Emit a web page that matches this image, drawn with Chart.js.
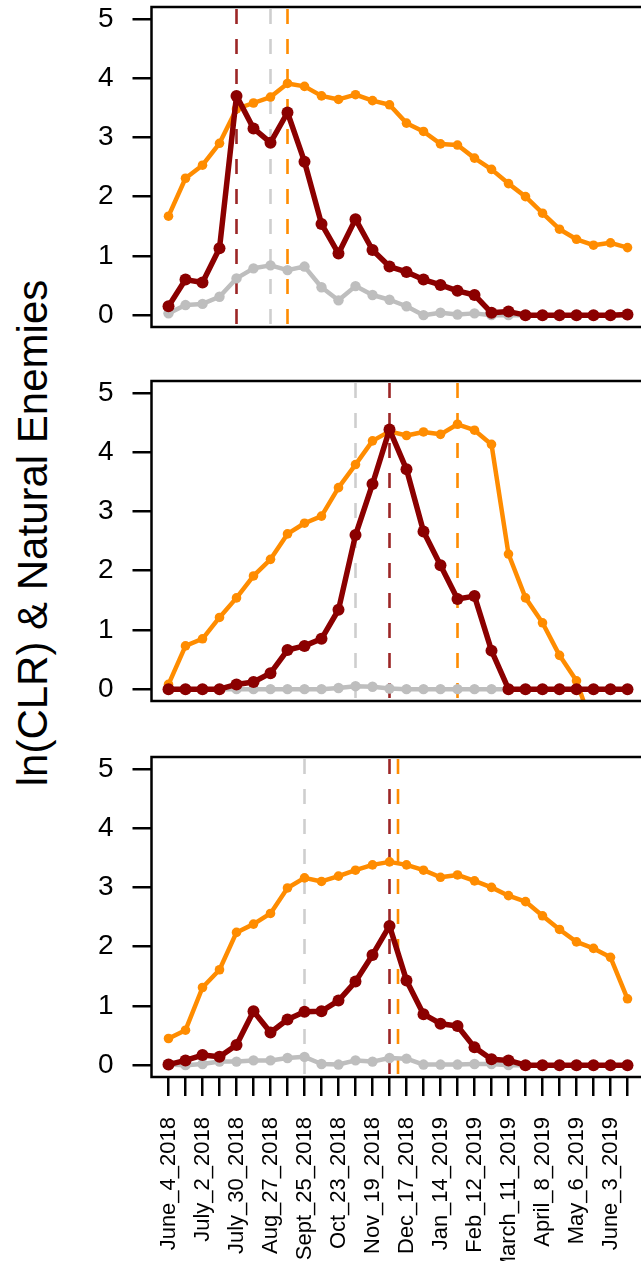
<!DOCTYPE html>
<html>
<head>
<meta charset="utf-8">
<script src="https://cdn.jsdelivr.net/npm/chart.js@4.4.0/dist/chart.umd.min.js"></script>
<style>
  html, body { margin: 0; padding: 0; background: #fff; overflow: hidden; width: 641px; height: 1261px; }
  .panel { position: absolute; left: 0; }
  #ytitle {
    position: absolute; width: 700px; height: 42px; line-height: 42px;
    left: -319.6px; top: 512px; text-align: center; white-space: nowrap;
    font: 42px "Liberation Sans", Arial, sans-serif; color: #000;
    transform: rotate(-90deg); transform-origin: 50% 50%;
  }
</style>
</head>
<body>
<div id="ytitle">ln(CLR) &amp; Natural Enemies</div>
<canvas class="panel" id="c1"></canvas>
<canvas class="panel" id="c2"></canvas>
<canvas class="panel" id="c3"></canvas>
<script>
// Sampling dates (every other one labelled on the axis)
const categories = [
  'June_4_2018', '', 'July_2_2018', '', 'July_30_2018', '', 'Aug_27_2018', '',
  'Sept_25_2018', '', 'Oct_23_2018', '', 'Nov_19_2018', '', 'Dec_17_2018', '',
  'Jan_14_2019', '', 'Feb_12_2019', '', 'March_11_2019', '', 'April_8_2019', '',
  'May_6_2019', '', 'June_3_2019', ''
];
const yTicks = [0, 1, 2, 3, 4, 5];

// Panel 1
const clrA     = [1.67, 2.31, 2.53, 2.90, 3.48, 3.58, 3.68, 3.91, 3.86, 3.70, 3.64, 3.72, 3.62, 3.55, 3.24, 3.10, 2.89, 2.87, 2.65, 2.46, 2.22, 2.00, 1.72, 1.45, 1.28, 1.18, 1.22, 1.14];
const enemy1A  = [0.15, 0.60, 0.55, 1.13, 3.70, 3.15, 2.91, 3.42, 2.59, 1.54, 1.04, 1.62, 1.10, 0.82, 0.73, 0.60, 0.51, 0.41, 0.34, 0.04, 0.06, 0, 0, 0, 0, 0, 0, 0.01];
const enemy2A  = [0.03, 0.17, 0.19, 0.31, 0.62, 0.79, 0.84, 0.76, 0.82, 0.47, 0.25, 0.49, 0.34, 0.26, 0.15, 0, 0.04, 0.01, 0.03, 0, 0, 0, 0, 0, 0, 0, 0, 0];
const peaksA   = [7, 4, 6];      // CLR, enemy 1, enemy 2

// Panel 2
const clrB     = [0.08, 0.73, 0.85, 1.21, 1.54, 1.91, 2.19, 2.62, 2.80, 2.92, 3.40, 3.79, 4.19, 4.35, 4.28, 4.34, 4.30, 4.47, 4.37, 4.13, 2.28, 1.54, 1.12, 0.57, 0.14, -0.69, null, null];
const enemy1B  = [0, 0, 0, 0, 0.08, 0.12, 0.27, 0.66, 0.73, 0.85, 1.34, 2.60, 3.46, 4.38, 3.71, 2.66, 2.09, 1.52, 1.57, 0.65, 0, 0, 0, 0, 0, 0, 0, 0];
const enemy2B  = [0, 0, 0, 0, 0, 0, 0, 0, 0, 0, 0.02, 0.05, 0.04, 0.01, 0, 0, 0, 0, 0, 0, 0, 0, 0, 0, 0, 0, 0, 0];
const peaksB   = [17, 13, 11];

// Panel 3
const clrC     = [0.45, 0.59, 1.31, 1.61, 2.24, 2.38, 2.56, 2.99, 3.16, 3.10, 3.19, 3.29, 3.38, 3.43, 3.38, 3.29, 3.17, 3.21, 3.11, 3.00, 2.86, 2.76, 2.52, 2.29, 2.08, 1.97, 1.82, 1.12];
const enemy1C  = [0.01, 0.08, 0.17, 0.14, 0.34, 0.91, 0.55, 0.77, 0.90, 0.91, 1.09, 1.41, 1.86, 2.35, 1.43, 0.86, 0.70, 0.66, 0.30, 0.10, 0.08, 0, 0, 0, 0, 0, 0, 0];
const enemy2C  = [0.01, 0, 0.02, 0.06, 0.06, 0.08, 0.08, 0.12, 0.14, 0.02, 0.01, 0.08, 0.06, 0.12, 0.11, 0.01, 0.01, 0.01, 0.02, 0.02, 0, 0, 0, 0, 0, 0, 0, 0];
const peaksC   = [13.5, 13, 8];

const COL_CLR = '#FF8C00';
const COL_E1  = '#8B0000';
const COL_E2  = '#BEBEBE';
const Y_MIN = -0.2, Y_MAX = 5.2;
const X_MIN = -1, X_MAX = 28.1;

Chart.defaults.font.family = '"Liberation Sans", Arial, sans-serif';
Chart.defaults.color = '#000';

// black box round the plotting region
const framePlugin = {
  id: 'frame',
  afterDatasetsDraw(chart) {
    const { ctx, chartArea: a } = chart;
    ctx.save();
    ctx.strokeStyle = '#000';
    ctx.lineWidth = 2.5;
    ctx.strokeRect(a.left, a.top, a.right - a.left, a.bottom - a.top);
    ctx.restore();
  }
};

function toPoints(arr) {
  return arr.map((v, i) => ({ x: i, y: v }));
}

function series(arr, color, width, radius, order) {
  return {
    data: toPoints(arr), borderColor: color, backgroundColor: color,
    borderWidth: width, pointRadius: radius, pointBorderWidth: 0,
    pointBackgroundColor: color, tension: 0, order: order, spanGaps: false,
    borderJoinStyle: 'round', borderCapStyle: 'round'
  };
}

function peakLine(x, color) {
  return {
    data: [{ x: x, y: Y_MIN }, { x: x, y: Y_MAX }], borderColor: color,
    borderWidth: 2.6, borderDash: [15, 15], borderDashOffset: -3, pointRadius: 0, order: 10
  };
}

function makePanel(id, top, withLabels, clr, e1, e2, peaks) {
  const canvas = document.getElementById(id);
  const padTop = 10;
  const axisH = withLabels ? 200 : 0;
  const h = padTop + 320 + (withLabels ? axisH : 10);
  const w = 680;
  canvas.width = w; canvas.height = h;
  canvas.style.width = w + 'px'; canvas.style.height = h + 'px';
  canvas.style.top = (top - padTop) + 'px';

  new Chart(canvas, {
    type: 'line',
    data: {
      datasets: [
        series(e1, COL_E1, 5.5, 6, 1),
        series(e2, COL_E2, 4.5, 5.2, 2),
        series(clr, COL_CLR, 4.5, 4.8, 3),
        peakLine(peaks[1], 'rgba(139,0,0,0.85)'),
        peakLine(peaks[2], 'rgba(190,190,190,0.75)'),
        peakLine(peaks[0], COL_CLR)
      ]
    },
    options: {
      responsive: false, animation: false, events: [],
      layout: { padding: { top: padTop, bottom: withLabels ? 0 : 10, left: 0, right: 680 - 646.2 } },
      plugins: { legend: { display: false }, tooltip: { enabled: false } },
      scales: {
        x: {
          type: 'linear', min: X_MIN, max: X_MAX, display: withLabels,
          afterBuildTicks: s => { s.ticks = categories.map((_, i) => ({ value: i })); },
          afterFit: s => { s.height = axisH; s.paddingLeft = 0; s.paddingRight = 0; },
          border: { display: false },
          grid: { drawOnChartArea: false, drawTicks: true, tickLength: 19, lineWidth: 2.5, color: '#000' },
          ticks: {
            autoSkip: false, minRotation: 90, maxRotation: 90, padding: 21,
            font: { size: 22 }, color: '#000',
            callback: v => categories[v] ?? ''
          }
        },
        y: {
          type: 'linear', min: Y_MIN, max: Y_MAX,
          afterBuildTicks: s => { s.ticks = yTicks.map(v => ({ value: v })); },
          afterFit: s => { s.width = 151.5; s.paddingTop = 0; s.paddingBottom = 0; },
          border: { display: false },
          grid: { drawOnChartArea: false, drawTicks: true, tickLength: 19, lineWidth: 2.5, color: '#000' },
          ticks: { padding: 19, font: { size: 28 }, color: '#000', callback: v => String(v) }
        }
      }
    },
    plugins: [framePlugin]
  });
}

makePanel('c1', 7.2, false, clrA, enemy1A, enemy2A, peaksA);
makePanel('c2', 381.4, false, clrB, enemy1B, enemy2B, peaksB);
makePanel('c3', 756.5, true, clrC, enemy1C, enemy2C, peaksC);
</script>
</body>
</html>
